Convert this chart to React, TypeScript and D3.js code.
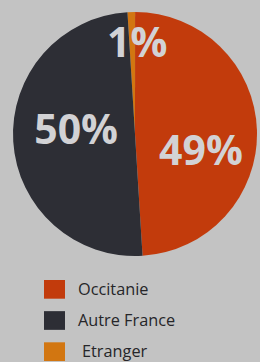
import { useEffect, useRef } from 'react';
import * as d3 from 'd3';

const categories = ['Etranger', 'Occitanie', 'Autre France'];
const values = [1, 49, 50];
const labels = ['1%', '49%', '50%'];
const legendOrder = ['Occitanie', 'Autre France', 'Etranger'];

const colors: Record<string, string> = {
  Occitanie: '#c23b0c',
  'Autre France': '#2d2e35',
  Etranger: '#d27611',
};

const App = () => {
  const svgRef = useRef<SVGSVGElement>(null);

  useEffect(() => {
    document.body.style.margin = '0';
    const width = 260;
    const height = 362;
    const cx = 135;
    const cy = 134;
    const radius = 122;

    const data = categories.map((c, i) => ({ name: c, value: values[i], label: labels[i] }));

    const pie = d3.pie<any>()
      .sort(null)
      .value(d => d.value)
      .startAngle(-0.062)
      .endAngle(-0.062 + Math.PI * 2);

    const arc = d3.arc<any>().innerRadius(0).outerRadius(radius);

    const arcs = pie(data);

    const svg = d3.select(svgRef.current)
      .attr('width', width)
      .attr('height', height);
    svg.selectAll('*').remove();

    svg.append('rect')
      .attr('width', width)
      .attr('height', height)
      .attr('fill', '#c3c3c3');

    const g = svg.append('g').attr('transform', `translate(${cx},${cy})`);

    g.selectAll('path')
      .data(arcs)
      .join('path')
      .attr('fill', d => colors[d.data.name])
      .attr('d', arc);

    // label radius / nudge per slice
    const labelR: Record<string, number> = { Etranger: 92, Occitanie: 66, 'Autre France': 59 };
    const nudgeX: Record<string, number> = { Etranger: 5, Occitanie: 0, 'Autre France': 0 };
    const nudgeY: Record<string, number> = { Etranger: 0, Occitanie: 18, 'Autre France': -8 };

    g.selectAll('text')
      .data(arcs)
      .join('text')
      .attr('transform', d => {
        const a = (d.startAngle + d.endAngle) / 2;
        const r = labelR[d.data.name];
        return `translate(${r * Math.sin(a) + nudgeX[d.data.name]},${-r * Math.cos(a) + nudgeY[d.data.name]})`;
      })
      .attr('text-anchor', 'middle')
      .attr('dy', '0.36em')
      .attr('font-family', 'Open Sans')
      .attr('font-weight', 700)
      .attr('font-size', 41)
      .attr('fill', '#d2d2d5')
      .text(d => d.data.label);

    const y = d3.scaleBand()
      .domain(legendOrder)
      .range([280, 361])
      .paddingInner(0.4)
      .paddingOuter(0);

    const legend = svg.append('g')
      .selectAll('g')
      .data(legendOrder)
      .join('g')
      .attr('transform', d => `translate(44,${y(d)})`);

    legend.append('rect')
      .attr('width', 21)
      .attr('height', y.bandwidth())
      .attr('fill', d => colors[d]);

    legend.append('text')
      .attr('x', d => (d === 'Etranger' ? 38 : 34))
      .attr('y', y.bandwidth() / 2)
      .attr('dy', '0.35em')
      .attr('font-family', 'Open Sans')
      .attr('font-size', 16.3)
      .attr('fill', '#262629')
      .text(d => d);
  }, []);

  return <svg ref={svgRef} style={{ display: 'block' }}></svg>;
};

export default App;
